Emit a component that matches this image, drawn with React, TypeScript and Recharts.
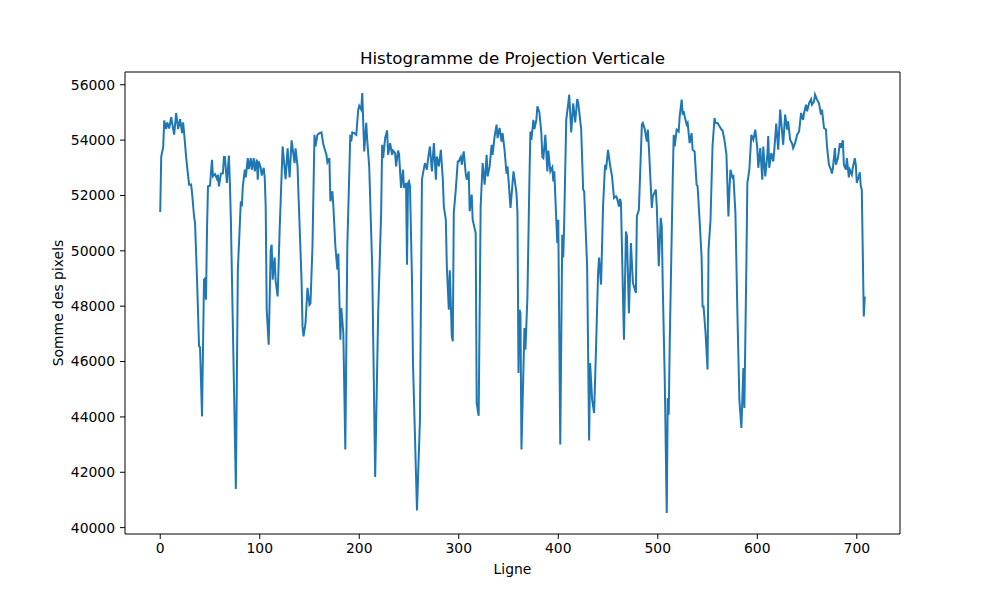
import { LineChart, Line, XAxis, YAxis, ReferenceLine } from "recharts";

// row index (Ligne) and pixel sum
const ligne: number[] = [
  0, 1, 3, 4, 6, 7, 9, 11, 13, 14, 16, 18, 20, 22, 23, 24, 26, 27, 29, 31,
  32, 34, 35, 37, 39, 40, 42, 44, 45, 46, 47, 48, 50, 52, 53, 55, 57, 58, 59, 61,
  63, 64, 65, 67, 69, 70, 71, 76, 78, 81, 82, 83, 85, 86, 88, 89, 91, 92, 94, 95,
  97, 98, 99, 101, 102, 104, 105, 106, 107, 109, 111, 112, 113, 115, 116, 118, 120, 123, 126, 128,
  130, 132, 135, 136, 138, 139, 142, 143, 144, 146, 148, 150, 151, 153, 155, 156, 158, 160, 162, 164,
  167, 168, 170, 171, 173, 174, 176, 178, 179, 181, 182, 184, 186, 188, 191, 192, 193, 195, 197, 199,
  200, 202, 203, 205, 207, 208, 210, 213, 216, 219, 222, 223, 224, 226, 228, 229, 231, 233, 234, 236,
  237, 239, 240, 242, 244, 245, 247, 248, 249, 250, 251, 253, 254, 258, 261, 263, 264, 266, 268, 269,
  271, 273, 275, 277, 278, 280, 282, 284, 285, 287, 288, 290, 291, 293, 294, 295, 297, 299, 300, 302,
  303, 305, 307, 308, 310, 311, 313, 314, 317, 318, 320, 322, 324, 326, 328, 329, 331, 333, 334, 336,
  338, 339, 341, 343, 344, 346, 348, 349, 352, 355, 358, 359, 360, 361, 362, 363, 366, 367, 369, 371,
  372, 373, 375, 376, 378, 379, 381, 383, 384, 385, 387, 389, 390, 392, 394, 395, 396, 398, 399, 400,
  402, 404, 405, 406, 408, 410, 411, 413, 415, 417, 419, 420, 423, 425, 426, 429, 431, 432, 434, 436,
  438, 440, 441, 443, 445, 447, 448, 450, 452, 454, 456, 458, 459, 461, 462, 463, 466, 468, 469, 471,
  472, 473, 475, 478, 479, 481, 484, 485, 487, 489, 490, 491, 494, 495, 498, 499, 501, 503, 504, 505,
  507, 509, 510, 511, 512, 515, 516, 517, 519, 521, 522, 524, 525, 526, 527, 529, 530, 532, 534, 535,
  537, 539, 540, 542, 544, 545, 546, 548, 550, 551, 553, 555, 557, 558, 560, 562, 564, 565, 567, 569,
  570, 571, 572, 573, 575, 576, 578, 580, 582, 584, 586, 587, 589, 590, 592, 594, 596, 598, 600, 601,
  603, 605, 606, 608, 610, 611, 612, 614, 616, 617, 619, 621, 623, 626, 628, 630, 631, 633, 635, 636,
  638, 640, 642, 644, 646, 647, 649, 650, 652, 654, 655, 657, 658, 660, 662, 664, 665, 667, 669, 670,
  672, 674, 675, 676, 678, 679, 681, 683, 684, 686, 687, 689, 690, 692, 693, 695, 696, 698, 699, 700,
  702, 703, 704, 705, 707, 708,
];

const sommePixels: number[] = [
  51400, 53400, 53750, 54710, 54400, 54640, 54420, 54830, 54400, 54200, 54980, 54400, 54760, 54250, 54640, 54250, 53410, 53050, 52390, 52400,
  52090, 51240, 51000, 48960, 46550, 46520, 44020, 48960, 49000, 48230, 50760, 52330, 52350, 53290, 52690, 52770, 52600, 52750, 52330, 52790,
  52800, 53390, 53390, 52450, 53440, 52450, 51120, 41400, 49320, 51790, 51600, 52330, 52930, 52650, 53350, 52950, 53350, 52930, 53350, 52870,
  53300, 52570, 53230, 53000, 52720, 53000, 52650, 51600, 47870, 46610, 50040, 50220, 48960, 49760, 48900, 48350, 50760, 53770, 52590, 53700,
  52650, 53990, 53170, 53700, 53050, 51970, 48960, 47270, 46910, 47390, 48660, 48050, 48100, 50160, 54190, 53770, 54190, 54250, 54280, 53830,
  53470, 53200, 53350, 51790, 52150, 51600, 50160, 49320, 49900, 46790, 47930, 47030, 42820, 50160, 54190, 53950, 54280, 54250, 54190, 55100,
  55240, 55100, 55700, 53590, 54620, 54010, 53050, 49440, 41830, 47750, 51370, 53830, 53350, 54070, 54350, 53470, 53890, 53470, 53620, 53530,
  53050, 53620, 53500, 52270, 52930, 52270, 52450, 49500, 52450, 52510, 52330, 48960, 45950, 40620, 43900, 52570, 52790, 53170, 52930, 53290,
  53770, 52870, 53890, 52570, 53410, 53050, 53650, 52570, 51600, 51120, 49440, 47870, 49300, 46910, 46730, 51370, 52210, 53230, 53230, 53390,
  53110, 53590, 52790, 52570, 52870, 51430, 52030, 51120, 50640, 44500, 44040, 51600, 53170, 52390, 53470, 52690, 53050, 53830, 53470, 54130,
  54560, 54070, 54440, 53950, 54250, 53650, 52790, 53050, 51550, 52870, 52090, 51370, 45590, 47870, 47750, 42820, 47210, 46430, 48340, 52570,
  54310, 54010, 54730, 54400, 54730, 55220, 55010, 54250, 53390, 53350, 54190, 52870, 53620, 52870, 53020, 52510, 52870, 51120, 50280, 51120,
  43000, 50580, 49760, 51120, 54730, 55310, 55640, 54280, 55330, 54640, 55480, 55360, 54400, 52210, 52150, 49440, 43150, 45950, 44620, 44140,
  46550, 49200, 49760, 48780, 51600, 53110, 52930, 53650, 53110, 52690, 51910, 51970, 51910, 51600, 51880, 51730, 46790, 50700, 50520, 47750,
  49000, 50280, 48840, 48480, 51250, 51480, 54560, 54620, 54380, 53950, 54380, 53770, 51550, 51970, 52210, 51600, 49440, 51190, 50880, 48720,
  45350, 40530, 44680, 44080, 46670, 52570, 54190, 53770, 54380, 54310, 54860, 55460, 54920, 55040, 54860, 54560, 54620, 53890, 54250, 53650,
  53590, 52390, 52330, 51120, 49800, 47990, 47990, 47030, 45710, 50040, 51120, 53770, 54800, 54620, 54620, 54500, 54380, 54350, 54010, 53470,
  52330, 51240, 52210, 52930, 52650, 52690, 51370, 47750, 44620, 43600, 45770, 44320, 49440, 52450, 52930, 54190, 54010, 54380, 53710, 53000,
  53710, 52570, 53770, 52690, 53410, 54150, 53000, 53530, 53230, 53590, 54600, 53650, 55100, 53830, 54920, 54380, 54680, 54010, 53870, 53710,
  53890, 54190, 54310, 54980, 54730, 54980, 55280, 55040, 55330, 55480, 55280, 55390, 55640, 55460, 55330, 54920, 55100, 54440, 54380, 53770,
  53110, 52930, 52790, 53000, 53710, 53110, 53350, 53890, 53710, 53990, 53110, 52930, 53350, 52650, 52930, 52750, 53000, 53350, 53110, 52450,
  52690, 52840, 52330, 52210, 47630, 48350,
];

const xTicks: number[] = [0, 100, 200, 300, 400, 500, 600, 700];
const yTicks: number[] = [40000, 42000, 44000, 46000, 48000, 50000, 52000, 54000, 56000];
const xDomain: [number, number] = [-35.4, 743.4];
const yDomain: [number, number] = [39770, 56460];

const data = ligne.map((l, i) => ({ ligne: l, somme: sommePixels[i] }));

const tickStyle = { fill: "#000", fontSize: 13.9 };

const App = () => {
  return (
    <div
      style={{
        position: "absolute",
        left: 0,
        top: 0,
        width: 1000,
        height: 600,
        background: "#fff",
        fontFamily: '"DejaVu Sans", sans-serif',
      }}
    >
      {/* Title */}
      <div
        style={{
          position: "absolute",
          left: 125,
          top: 48,
          width: 775,
          textAlign: "center",
          fontSize: 16.7,
          lineHeight: "20px",
          color: "#000",
        }}
      >
        Histogramme de Projection Verticale
      </div>

      <LineChart
        width={1000}
        height={600}
        data={data}
        margin={{ top: 72, right: 100, bottom: 0, left: 0 }}
      >
        <XAxis
          dataKey="ligne"
          type="number"
          domain={xDomain}
          ticks={xTicks}
          height={66}
          tickSize={5}
          tickMargin={4}
          stroke="#000"
          tick={tickStyle}
          label={{ value: "Ligne", position: "insideBottom", offset: 26, fill: "#000", fontSize: 13.9 }}
        />
        <YAxis
          type="number"
          domain={yDomain}
          ticks={yTicks}
          width={125}
          tickSize={5}
          tickMargin={5}
          stroke="#000"
          tick={tickStyle}
          label={{
            value: "Somme des pixels",
            angle: -90,
            position: "insideLeft",
            offset: 58,
            fill: "#000",
            fontSize: 13.9,
            style: { textAnchor: "middle" },
          }}
        />
        {/* top and right spines */}
        <ReferenceLine y={yDomain[1]} stroke="#000" strokeWidth={1} />
        <ReferenceLine x={xDomain[1]} stroke="#000" strokeWidth={1} />
        <Line
          type="linear"
          dataKey="somme"
          stroke="#1f77b4"
          strokeWidth={2}
          dot={false}
          isAnimationActive={false}
        />
      </LineChart>
    </div>
  );
};

export default App;
